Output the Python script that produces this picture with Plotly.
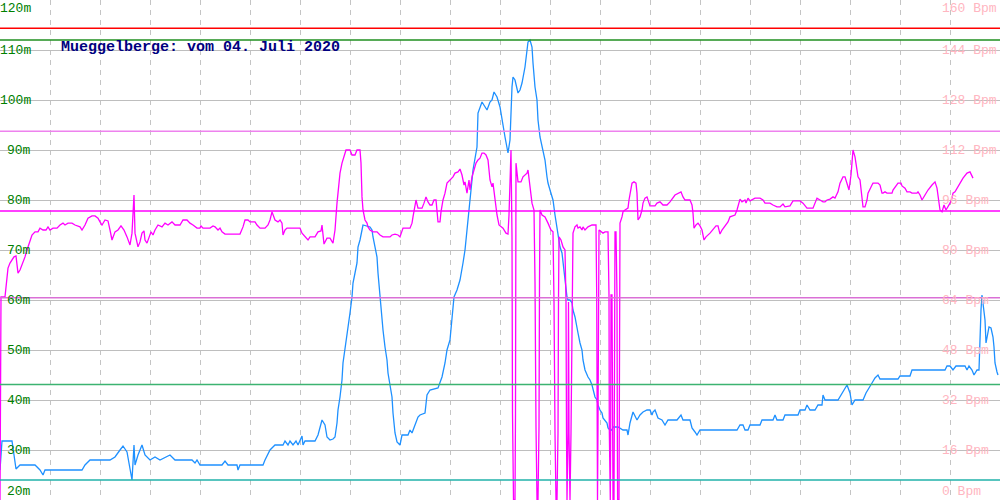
import plotly.graph_objects as go

# ---------------- data ----------------
alt_x = [0, 2, 12, 15, 16, 20, 35, 40, 43, 45, 82, 85, 90, 110, 115, 120, 123, 127, 130, 132, 134, 135, 138, 142, 145,
         150, 155, 160, 170, 175, 192, 195, 197, 200, 222, 225, 228, 237, 238, 240, 263, 265, 270, 275, 283, 285, 288,
         290, 293, 296, 298, 300, 302, 303, 305, 315, 318, 322, 325, 327, 330, 333, 335, 337, 338, 340, 342, 343, 345,
         347, 348, 350, 352, 353, 355, 357, 358, 360, 362, 363, 370, 372, 373, 375, 377, 378, 380, 382, 383, 385, 387,
         388, 390, 392, 393, 395, 397, 400, 402, 408, 410, 412, 415, 418, 420, 425, 427, 430, 438, 442, 445, 447, 450,
         453, 454, 457, 460, 463, 465, 467, 470, 473, 477, 478, 482, 487, 490, 492, 494, 497, 500, 502, 505, 508, 510,
         512, 513, 515, 518, 520, 522, 525, 527, 528, 530, 532, 533, 535, 537, 538, 540, 542, 543, 545, 547, 548, 550,
         552, 553, 555, 557, 558, 560, 562, 563, 565, 567, 568, 570, 572, 573, 575, 577, 578, 580, 582, 583, 585, 588,
         590, 592, 593, 595, 597, 598, 600, 602, 603, 605, 607, 608, 610, 612, 613, 618, 620, 623, 627, 628, 630, 632,
         633, 635, 637, 640, 643, 647, 650, 652, 653, 655, 657, 658, 662, 665, 668, 677, 681, 683, 690, 692, 695, 697,
         700, 737, 740, 743, 745, 748, 750, 760, 762, 773, 775, 777, 783, 785, 798, 800, 805, 807, 810, 815, 818, 822,
         823, 825, 838, 842, 845, 847, 850, 852, 855, 863, 866, 870, 872, 875, 878, 880, 898, 900, 910, 912, 945, 947,
         950, 953, 956, 965, 967, 969, 972, 974, 977, 979, 980, 981, 982, 983, 985, 986, 987, 988, 989, 991, 993, 994,
         995, 997, 998]
alt_m = [26, 31.8, 31.8, 28, 26.2, 27, 27, 26, 25, 26, 26, 27, 28, 28, 28.6, 30, 30.8, 29.6, 26, 24, 31, 27, 29, 31, 29,
         28, 28.6, 28, 29, 28, 28, 27.4, 28, 27, 27, 27.8, 27, 27, 26, 27, 27, 28, 30, 31, 31, 31.8, 31,
         31.8, 31, 31.8, 31, 32, 32.8, 31, 31.8, 31.8, 33, 36, 35, 32.6, 32, 32.2, 32.6, 35.4, 38, 40.6, 44, 47.4, 50,
         53.4, 54.6, 57.4, 60.6, 63.4, 65.4, 67.4, 70.6, 72, 74, 75, 74.6, 74, 72.6, 70.6, 68.6, 65.4, 60.6, 57.4, 54, 50.6, 48,
         45.4, 42.6, 40.6, 37.4, 33.4, 31.6, 31, 33, 33, 34, 33.4, 35, 36.6, 37, 37.4, 41, 42, 42.4, 44.6, 47.4, 50, 52,
         58.6, 60.6, 62, 64, 67.4, 70, 74, 79.4, 86, 90.6, 97.4, 99.6, 98, 99.6, 100, 101.6, 100.6, 98.6, 96, 92.6, 89.4, 92,
         102.6, 104.6, 104, 101.4, 102, 103.4, 106.6, 109.4, 111.6, 112, 110.6, 107.4, 102.6, 100, 96, 92.6, 91, 90, 88, 84.6, 83.4, 82,
         80.6, 80, 77, 74, 72.6, 70.6, 69.4, 67.4, 63.4, 60.6, 60, 60, 59.4, 58, 56.6, 54, 53.4, 51.4, 50, 48, 46, 44.6,
         44, 43, 42, 40.6, 40, 39, 38, 37.4, 36.4, 36, 35.4, 34.4, 34, 34, 34.6, 34.6, 34.4, 34, 34, 33, 35.4, 36.6,
         37.6, 36.8, 36, 37, 37.6, 38, 38, 37, 37.6, 38, 37, 36.4, 36, 35, 36, 36, 37, 36, 36, 34.4, 33.6, 33,
         34, 34, 35, 35, 34, 34, 35, 35, 36, 36, 37, 36, 36, 37, 37, 38, 38, 39, 38, 38, 39, 39,
         41, 40, 40, 41.4, 42.6, 43, 41.4, 39, 40, 40, 41.4, 42.6, 43.4, 44.4, 45, 44.2, 44.2, 44.8, 44.8, 46, 46, 46.8,
         46.8, 46, 46.8, 46.8, 46, 46.8, 46, 45, 46, 46, 54, 58, 61, 59, 56, 51.4, 52.6, 53.6, 54.6, 54.4, 52.6, 50.6,
         47.4, 45.6, 45]

hr_x = [0, 1, 5, 6, 7, 8, 10, 12, 14, 16, 17, 18, 20, 22, 25, 27, 30, 32, 35, 38, 40, 43, 46, 48, 50, 53, 57, 60, 63,
        65, 68, 72, 75, 80, 82, 85, 88, 92, 95, 98, 100, 102, 105, 108, 110, 112, 115, 118, 121, 124, 127, 130, 132,
        133, 134, 135, 137, 138, 140, 142, 144, 145, 147, 149, 151, 153, 155, 158, 162, 165, 168, 172, 175, 180, 183,
        187, 190, 193, 195, 197, 200, 201, 203, 210, 213, 215, 218, 220, 222, 225, 240, 243, 245, 248, 250, 255, 257,
        260, 265, 268, 270, 272, 275, 278, 280, 282, 283, 285, 287, 300, 302, 305, 308, 310, 315, 318, 321, 322, 324,
        327, 330, 333, 335, 337, 339, 340, 342, 344, 346, 350, 352, 355, 357, 360, 361, 362, 363, 365, 367, 368, 370,
        373, 377, 380, 383, 390, 392, 395, 398, 400, 402, 403, 410, 412, 413, 415, 416, 418, 422, 424, 426, 428, 430,
        432, 434, 436, 437, 438, 440, 441, 443, 445, 447, 450, 453, 455, 458, 460, 462, 464, 465, 467, 469, 470, 472,
        474, 476, 478, 480, 482, 484, 486, 488, 490, 492, 493, 495, 497, 499, 503, 506, 508, 509, 510, 511, 512, 512.5,
        513.5, 515, 515.5, 516, 518, 521, 523, 527, 528, 530, 532, 534, 535, 536, 537, 538, 539, 539.5, 540, 542, 545,
        548, 551, 553, 554, 555, 556, 557, 558, 558.5, 559, 561, 563, 565, 566, 566.5, 567, 568, 568.5, 569, 570, 571,
        572, 573, 575, 577, 578, 580, 582, 583, 585, 588, 592, 596, 596.7, 597, 597.5, 598, 598.3, 599, 603, 605, 608,
        609, 609.3, 609.7, 610.3, 610.7, 611, 612, 612.7, 613, 614, 614.3, 614.5, 615, 616, 617, 617.3, 617.6, 619,
        619.3, 619.5, 620, 622, 623, 625, 628, 629, 631, 632, 634, 636, 637, 638, 640, 642, 643, 645, 647, 648, 650,
        655, 657, 660, 663, 667, 670, 675, 678, 681, 683, 685, 690, 692, 693, 694, 696, 698, 700, 702, 704, 706, 710,
        713, 716, 718, 720, 722, 725, 728, 730, 735, 737, 740, 742, 745, 746, 748, 750, 752, 755, 760, 763, 765, 770,
        773, 777, 780, 783, 785, 790, 793, 800, 803, 807, 813, 815, 817, 820, 823, 825, 827, 830, 833, 835, 838, 840,
        843, 845, 849, 851, 853, 855, 857, 858, 860, 862, 863, 865, 867, 868, 870, 872, 873, 878, 880, 882, 883, 885,
        887, 892, 893, 897, 898, 901, 902, 905, 907, 910, 912, 917, 918, 920, 922, 925, 928, 932, 935, 937, 938, 940,
        942, 943, 944, 946, 948, 950, 952, 953, 955, 958, 962, 963, 967, 970, 973]
hr_bpm = [0, 65.0, 65.0, 68.2, 72.6, 74.2, 75.8, 76.8, 77.8, 78.1, 75.8, 72.6, 73.6, 75.2, 77.8, 80, 83.2, 84.8, 85.8,
          85.8, 87.0, 86.4, 86.4, 87.4, 86.4, 87.0, 87.0, 88, 88.6, 88, 88.6, 88.6, 88, 87.4, 86.4, 88, 90.2, 90.9,
          90.9, 90.2, 89.0, 88, 89.6, 89.3, 86.4, 83.2, 85.8, 86.4, 87.7, 86.4, 84.2, 81.6, 85.4, 95.0, 97.6, 85.4,
          82.2, 81.0, 82.6, 85.4, 86.1, 83.2, 82.2, 83.8, 85.8, 84.8, 86.4, 88, 87.4, 88.6, 88, 89.0, 88, 88, 89.6,
          89.6, 88.6, 88, 87.4, 87.0, 87.0, 87.7, 87.0, 87.0, 87.7, 87.4, 86.4, 87.0, 85.8, 85.1, 85.1, 87.4, 89.6,
          89.6, 89.0, 89.0, 88, 87.0, 87.0, 88, 89.6, 92.2, 89.6, 89.0, 89.6, 88.6, 84.8, 86.4, 87.0, 87.0, 85.4,
          84.2, 83.2, 84.2, 84.2, 85.8, 86.1, 88, 81.9, 83.8, 83.8, 82.2, 86.4, 95.0, 101.4, 104.6, 107.8, 110.4, 112,
          112, 110.4, 110.4, 112, 112, 107.8, 97.0, 92.8, 89.6, 88.6, 87.4, 86.4, 85.8, 85.8, 84.8, 84.2, 84.2, 84.8,
          85.1, 84.8, 84.2, 85.8, 87.0, 87.0, 88.6, 90.6, 93.8, 96, 93.4, 93.4, 95.0, 97.0, 95.4, 94.4, 94.4, 96, 96,
          92.8, 89.0, 89.0, 92.2, 96, 98.2, 101.4, 102.4, 103.4, 104.6, 105.0, 105.9, 104, 100.8, 101.8, 98.2, 102.4,
          99.2, 103.4, 105.6, 107.8, 108.8, 109.4, 111.0, 111.0, 110.4, 108.8, 102.4, 100.2, 101.4, 96, 91.2, 88, 87.0,
          85.4, 85.1, 91.2, 102.4, 112, 84.2, 27.8, 0, 0, 27.8, 107.8, 101.8, 101.8, 103.4, 104.6, 105.6, 100.2, 95.0,
          92.8, 69.8, 23.4, 0, 0, 23.4, 69.8, 92.8, 91.2, 90.6, 88.6, 86.4, 85.8, 63.4, 21.4, 0, 0, 21.4, 63.4, 84.2,
          83.2, 81.0, 80, 63.4, 21.4, 0, 21.4, 63.4, 21.4, 0, 21.4, 63.4, 85.4, 87.4, 88, 87.0, 87.4, 86.4, 87.4, 86.4,
          87.4, 88, 88, 65.6, 23.4, 0, 23.4, 65.6, 86.4, 85.4, 85.8, 85.8, 65.6, 22.4, 0, 0, 22.4, 65.6, 65.6, 22.4,
          0, 0, 22.4, 65.6, 85.8, 85.8, 65.6, 22.4, 0, 0, 22.4, 66.2, 88.6, 90.6, 92.2, 92.8, 93.4, 96, 100.2, 101.4,
          101.8, 101.4, 98.2, 89.6, 90.6, 92.8, 95.0, 96.6, 97.0, 96, 94.1, 94.1, 95.0, 95.4, 94.4, 94.4, 95.4, 97.6,
          98.2, 98.6, 97.0, 96, 96, 94.4, 91.8, 87.0, 88, 88.6, 87.7, 86.4, 83.2, 84.2, 85.4, 86.7, 87.7, 87.7, 85.1,
          86.4, 87.7, 89.0, 90.6, 91.2, 92.8, 96.3, 95.4, 96, 95.0, 96.6, 95.7, 96, 96.6, 96.6, 96, 95.0, 95.0, 94.4,
          93.8, 93.8, 94.7, 93.8, 94.1, 95.7, 95.7, 95.0, 93.4, 93.4, 95.0, 96.6, 96, 95.4, 95.4, 96, 96.3, 97.0, 96.6,
          98.6, 101.4, 103.4, 103.4, 99.2, 104, 112, 109.8, 105.6, 103.4, 102.4, 96, 93.8, 93.8, 96, 98.2, 99.8, 100.8,
          101.4, 101.4, 100.8, 98.2, 98.2, 98.6, 98.2, 98.2, 99.2, 100.8, 101.4, 101.4, 100.5, 99.8, 98.6, 98.6, 98.2,
          98.2, 98.6, 97.6, 96, 97.6, 99.2, 100.8, 101.8, 99.8, 97.6, 92.8, 92.2, 93.8, 94.4, 92.8, 93.8, 95.0, 96.6,
          98.2, 98.6, 100.2, 102.7, 103.0, 104.6, 105.0, 103.0]

alt_ticks = [20, 30, 40, 50, 60, 70, 80, 90, 100, 110, 120]
alt_tick_labels = ["20m", "30m", "40m", "50m", "60m", "70m", "80m", "90m", "100m", "110m", "120m"]
hr_ticks = [0, 16, 32, 48, 64, 80, 96, 112, 128, 144, 160]
hr_tick_labels = ["0 Bpm", "16 Bpm", "32 Bpm", "48 Bpm", "64 Bpm", "80 Bpm", "96 Bpm",
                  "112 Bpm", "128 Bpm", "144 Bpm", "160 Bpm"]

# reference levels
alt_ref_values = [112, 43.1, 24]          # max altitude, mean altitude, min altitude (m)
alt_ref_colors = ["#1f8f1f", "#3cb371", "#20b2aa"]
hr_ref_values = [151, 118, 92.5, 64.7]      # HR reference levels (Bpm)
hr_ref_colors = ["#ff0000", "#ee82ee", "#ff00ff", "#da70d6"]

title_text = "Mueggelberge: vom 04. Juli 2020"

# ---------------- figure ----------------
fig = go.Figure()

fig.add_trace(go.Scatter(x=alt_x, y=alt_m, mode="lines", yaxis="y",
                         line=dict(color="#1e90ff", width=1.3), hoverinfo="skip", showlegend=False))
fig.add_trace(go.Scatter(x=hr_x, y=hr_bpm, mode="lines", yaxis="y2",
                         line=dict(color="#ff00ff", width=1.3), hoverinfo="skip", showlegend=False))

shapes = []
for v, c in zip(alt_ref_values, alt_ref_colors):
    shapes.append(dict(type="line", xref="paper", x0=0, x1=1, yref="y", y0=v, y1=v,
                       line=dict(color=c, width=1.5), layer="above"))
for v, c in zip(hr_ref_values, hr_ref_colors):
    shapes.append(dict(type="line", xref="paper", x0=0, x1=1, yref="y2", y0=v, y1=v,
                       line=dict(color=c, width=1.5), layer="above"))

annotations = []
label_font = "Liberation Mono, DejaVu Sans Mono, monospace"
for i, (v, t) in enumerate(zip(alt_ticks, alt_tick_labels)):
    shift = 0
    if i == 0:
        shift = 9
    elif i == len(alt_ticks) - 1:
        shift = -8
    annotations.append(dict(xref="paper", x=0.033, xanchor="right", yref="y", y=v, yanchor="middle",
                            yshift=shift, text=t, showarrow=False,
                            font=dict(family=label_font, size=13, color="#008000")))
for i, (v, t) in enumerate(zip(hr_ticks, hr_tick_labels)):
    shift = 0
    if i == 0:
        shift = 9
    elif i == len(hr_ticks) - 1:
        shift = -8
    annotations.append(dict(xref="paper", x=0.94, xanchor="left", yref="y2", y=v, yanchor="middle",
                            yshift=shift, text=t, showarrow=False,
                            font=dict(family=label_font, size=13, color="#ffb6c1")))
annotations.append(dict(xref="paper", x=0.059, xanchor="left", yref="paper", y=0.904, yanchor="middle",
                        text="<b>" + title_text + "</b>", showarrow=False,
                        font=dict(family=label_font, size=15, color="#000080")))

fig.update_layout(
    width=1000, height=500,
    margin=dict(l=0, r=0, t=0, b=0),
    paper_bgcolor="white", plot_bgcolor="white",
    showlegend=False,
    xaxis=dict(range=[0, 1000], tick0=0, dtick=50, showgrid=True, gridcolor="#c4c4c4", gridwidth=1,
               griddash="5px,5px", showticklabels=False, ticks="", zeroline=False,
               showline=True, mirror=True, linecolor="#bbbbbb", linewidth=1),
    yaxis=dict(range=[20, 120], tick0=20, dtick=10, showgrid=True, gridcolor="#bebebe", gridwidth=1,
               showticklabels=False, ticks="", zeroline=False,
               showline=True, mirror=True, linecolor="#bbbbbb", linewidth=1),
    yaxis2=dict(range=[0, 160], overlaying="y", side="right", showgrid=False,
                showticklabels=False, ticks="", zeroline=False),
    shapes=shapes,
    annotations=annotations,
)

fig.write_html("out.html", config={"displayModeBar": False},
               post_script="document.body.style.margin='0';document.body.style.overflow='hidden';")
